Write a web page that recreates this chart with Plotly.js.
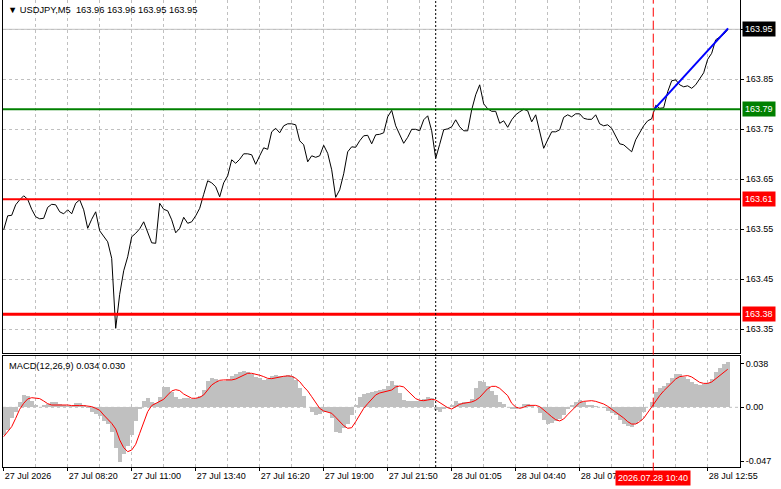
<!DOCTYPE html>
<html><head><meta charset="utf-8">
<script src="https://cdn.plot.ly/plotly-3.0.1.min.js"></script>
<style>html,body{margin:0;padding:0;background:#fff;}#chart{width:781px;height:489px;}</style>
</head><body><div id="chart"></div>
<script>
// USDJPY M5 close, one value per 2 bars
const price = [
163.549,163.577,163.578,163.599,163.609,163.617,163.610,163.590,163.575,163.571,
163.572,163.594,163.600,163.599,163.585,163.581,163.589,163.581,163.602,163.609,
163.589,163.552,163.570,163.585,163.547,163.537,163.525,163.492,163.352,163.420,
163.467,163.495,163.535,163.542,163.551,163.565,163.545,163.523,163.522,163.602,
163.590,163.587,163.569,163.543,163.552,163.574,163.562,163.565,163.577,163.592,
163.620,163.647,163.643,163.635,163.615,163.643,163.657,163.689,163.682,163.690,
163.701,163.701,163.699,163.680,163.697,163.713,163.710,163.745,163.752,163.743,
163.757,163.761,163.761,163.759,163.727,163.719,163.685,163.697,163.694,163.697,
163.718,163.702,163.669,163.614,163.629,163.661,163.705,163.715,163.714,163.727,
163.737,163.738,163.721,163.739,163.740,163.743,163.775,163.788,163.757,163.741,
163.722,163.734,163.750,163.750,163.747,163.769,163.777,163.747,163.692,163.720,
163.749,163.751,163.755,163.769,163.755,163.747,163.747,163.789,163.819,163.839,
163.801,163.791,163.786,163.786,163.762,163.767,163.754,163.769,163.779,163.785,
163.790,163.787,163.765,163.779,163.747,163.712,163.729,163.745,163.745,163.749,
163.774,163.779,163.775,163.781,163.781,163.772,163.770,163.770,163.779,163.761,
163.757,163.759,163.752,163.735,163.721,163.719,163.712,163.705,163.729,163.744,
163.757,163.767,163.771,163.798,163.792,163.793,163.825,163.847,163.849,163.839,
163.835,163.837,163.832,163.839,163.852,163.863,163.890,163.902,163.929,163.935,
163.940,163.949];

const macdHist = [
-0.0242,-0.0198,-0.0096,-0.0044,0.0049,0.0108,0.0099,0.0055,0.0020,0.0006,
0.0020,0.0029,0.0044,0.0044,0.0029,0.0020,0.0015,0.0015,0.0035,0.0041,
0.0020,-0.0003,-0.0038,-0.0055,-0.0073,-0.0116,-0.0148,-0.0212,-0.0358,-0.0480,
-0.0410,-0.0335,-0.0242,-0.0116,-0.0015,0.0055,0.0079,0.0049,0.0041,0.0093,
0.0178,0.0175,0.0137,0.0087,0.0076,0.0079,0.0079,0.0073,0.0079,0.0096,
0.0151,0.0230,0.0256,0.0247,0.0227,0.0230,0.0245,0.0277,0.0291,0.0306,
0.0317,0.0311,0.0294,0.0265,0.0255,0.0242,0.0247,0.0277,0.0285,0.0274,
0.0277,0.0279,0.0274,0.0239,0.0172,0.0102,0.0000,-0.0044,-0.0070,-0.0058,
-0.0038,-0.0044,-0.0096,-0.0212,-0.0224,-0.0183,-0.0148,-0.0067,0.0020,0.0090,
0.0114,0.0125,0.0134,0.0143,0.0151,0.0160,0.0189,0.0230,0.0195,0.0122,
0.0067,0.0055,0.0055,0.0055,0.0058,0.0073,0.0090,0.0079,-0.0023,-0.0038,
-0.0015,-0.0006,0.0020,0.0055,0.0041,0.0044,0.0049,0.0073,0.0166,0.0230,
0.0221,0.0189,0.0143,0.0108,0.0049,0.0026,0.0003,-0.0017,-0.0017,0.0000,
0.0026,0.0029,0.0015,0.0000,-0.0052,-0.0111,-0.0146,-0.0140,-0.0122,-0.0105,
-0.0067,-0.0015,0.0020,0.0049,0.0067,0.0049,0.0023,0.0020,0.0015,0.0003,
-0.0009,-0.0035,-0.0052,-0.0070,-0.0108,-0.0148,-0.0160,-0.0169,-0.0148,-0.0116,
-0.0044,0.0003,0.0049,0.0131,0.0169,0.0189,0.0215,0.0259,0.0291,0.0291,
0.0268,0.0245,0.0218,0.0201,0.0198,0.0201,0.0215,0.0247,0.0311,0.0346,
0.0376,0.0393];

const macdSignal = [
-0.0256,-0.0212,-0.0169,-0.0096,-0.0017,0.0035,0.0073,0.0084,0.0082,0.0076,
0.0055,0.0032,0.0020,0.0020,0.0023,0.0026,0.0020,0.0015,0.0012,0.0015,
0.0015,0.0012,0.0006,-0.0009,-0.0026,-0.0067,-0.0102,-0.0140,-0.0189,-0.0285,
-0.0352,-0.0387,-0.0373,-0.0323,-0.0227,-0.0125,-0.0038,0.0015,0.0035,0.0049,
0.0070,0.0108,0.0143,0.0154,0.0146,0.0116,0.0096,0.0079,0.0079,0.0087,
0.0108,0.0157,0.0195,0.0218,0.0236,0.0239,0.0239,0.0239,0.0247,0.0262,
0.0282,0.0297,0.0297,0.0290,0.0280,0.0268,0.0253,0.0250,0.0259,0.0265,
0.0271,0.0274,0.0271,0.0253,0.0224,0.0180,0.0143,0.0093,0.0041,-0.0009,
-0.0032,-0.0044,-0.0052,-0.0087,-0.0125,-0.0160,-0.0183,-0.0178,-0.0125,-0.0067,
-0.0009,0.0032,0.0073,0.0108,0.0125,0.0134,0.0140,0.0151,0.0178,0.0186,
0.0178,0.0143,0.0108,0.0076,0.0061,0.0058,0.0064,0.0070,0.0064,0.0041,
0.0015,-0.0003,-0.0015,0.0003,0.0026,0.0035,0.0041,0.0047,0.0061,0.0087,
0.0125,0.0163,0.0183,0.0183,0.0166,0.0137,0.0102,0.0035,0.0003,-0.0009,
0.0000,0.0017,0.0020,0.0017,0.0006,-0.0020,-0.0052,-0.0082,-0.0108,-0.0119,
-0.0102,-0.0064,-0.0026,0.0012,0.0041,0.0052,0.0058,0.0058,0.0052,0.0041,
0.0029,0.0009,-0.0015,-0.0038,-0.0064,-0.0093,-0.0125,-0.0146,-0.0146,-0.0125,
-0.0096,-0.0044,0.0000,0.0055,0.0102,0.0143,0.0180,0.0215,0.0247,0.0268,
0.0274,0.0277,0.0265,0.0239,0.0218,0.0209,0.0209,0.0221,0.0247,0.0277,
0.0306,0.0332];

const tickIndex = [0,16,32,48,64,80,96,112,128,144,176];
const tickLabels = ["27 Jul 2026","27 Jul 08:20","27 Jul 11:00","27 Jul 13:40","27 Jul 16:20",
  "27 Jul 19:00","27 Jul 21:50","28 Jul 01:05","28 Jul 04:40","28 Jul 07","28 Jul 12:55"];
const priceTicks = [163.35,163.45,163.55,163.65,163.75,163.85,163.95];
const macdTicks = [-0.047,0,0.038];
const macdTickText = ["-0.047","0.00","0.038"];
const levelValues = [163.79,163.61,163.38];
const levelLabels = ["163.79","163.61","163.38"];
const lastPrice = 163.95;
const trendIndex = [162.6,181.1];
const trendPrice = [163.790,163.952];
const markerBlackIndex = 108;
const markerRedIndex = 162.4;
const markerRedLabel = "2026.07.28 10:40";
const headerText = "\u25BC USDJPY,M5\u00a0\u00a0163.96 163.96 163.95 163.95";
const macdText = "MACD(12,26,9) 0.034 0.030";

const barIndex = price.map((_, i) => i);
const FONT = "Liberation Sans, DejaVu Sans, Arial, sans-serif";
const FS = 9;
const GRID = "#c0c0c0";
const DASH = "3px,3px";
const gridIdx = [];
for (let i = 0; i <= 184; i += 8) gridIdx.push(i);

const traces = [
  {type:'scatter', mode:'lines', x:barIndex, y:price, xaxis:'x', yaxis:'y',
   line:{color:'#000', width:1}, hoverinfo:'skip'},
  {type:'scatter', mode:'lines', x:trendIndex, y:trendPrice, xaxis:'x', yaxis:'y',
   line:{color:'#0000ff', width:2}, hoverinfo:'skip'},
  {type:'bar', x:barIndex, y:macdHist, xaxis:'x2', yaxis:'y2', width:1,
   marker:{color:'#c0c0c0', line:{width:0}}, hoverinfo:'skip'},
  {type:'scatter', mode:'lines', x:barIndex, y:macdSignal, xaxis:'x2', yaxis:'y2',
   line:{color:'#ff0000', width:1}, hoverinfo:'skip'}
];

const levelColors = ['#008000','#ff0000','#ff0000'];
const levelWidths = [2,2,3];

const shapes = [
  {type:'line', xref:'paper', x0:0, x1:1, yref:'y', y0:lastPrice, y1:lastPrice,
   line:{color:'#c0c0c0', width:1}, layer:'below'},
  {type:'line', xref:'paper', x0:0, x1:1, yref:'y2', y0:0, y1:0,
   line:{color:GRID, width:1, dash:DASH}, layer:'below'}
];
levelValues.forEach((v, i) => shapes.push({type:'line', xref:'paper', x0:0, x1:1, yref:'y', y0:v, y1:v,
  line:{color:levelColors[i], width:levelWidths[i]}}));
shapes.push({type:'line', xref:'x', x0:markerBlackIndex, x1:markerBlackIndex, yref:'paper', y0:0, y1:1,
  line:{color:'#000', width:1, dash:'2px,2px'}});
shapes.push({type:'line', xref:'x', x0:markerRedIndex, x1:markerRedIndex, yref:'paper', y0:-0.01, y1:1,
  line:{color:'#ff0000', width:1, dash:'9px,4px'}});

const annotations = [
  {xref:'paper', yref:'paper', x:0, y:1, xanchor:'left', yanchor:'top', xshift:3, yshift:-3,
   text:headerText, showarrow:false, font:{family:FONT, size:9.3, color:'#000'}},
  {xref:'paper', yref:'paper', x:0, y:0.2377, xanchor:'left', yanchor:'top', xshift:4, yshift:-3,
   text:macdText, showarrow:false, font:{family:FONT, size:9.3, color:'#000'}},
  {xref:'paper', yref:'y', x:1, y:lastPrice, xanchor:'left', yanchor:'middle', xshift:2,
   text:"163.95", showarrow:false, bgcolor:'#000', borderpad:2, font:{family:FONT, size:FS, color:'#fff'}},
  {xref:'x2', yref:'paper', x:markerRedIndex, y:0, xanchor:'center', yanchor:'top', yshift:-3,
   text:markerRedLabel, showarrow:false, bgcolor:'#ff0000', borderpad:2, font:{family:FONT, size:FS, color:'#fff'}}
];
levelValues.forEach((v, i) => annotations.push({xref:'paper', yref:'y', x:1, y:v, xanchor:'left', yanchor:'middle', xshift:2,
  text:levelLabels[i], showarrow:false, bgcolor:levelColors[i], borderpad:2, font:{family:FONT, size:FS, color:'#fff'}}));

const xcommon = {range:[-0.175,184.08], zeroline:false, showgrid:true, gridcolor:GRID, griddash:DASH, gridwidth:1,
  tickmode:'array', tickvals:tickIndex, showline:true, linecolor:'#000', linewidth:1,
  minor:{tickmode:'array', tickvals:gridIdx, showgrid:true, gridcolor:GRID, griddash:DASH, gridwidth:1, ticks:''}};

const layout = {
  width:781, height:489,
  margin:{l:3, r:41, t:0, b:22, pad:0},
  paper_bgcolor:'#fff', plot_bgcolor:'#fff',
  showlegend:false, bargap:0,
  font:{family:FONT, size:FS, color:'#000'},
  xaxis:Object.assign({}, xcommon, {domain:[0,1], anchor:'y', showticklabels:false, ticks:''}),
  xaxis2:Object.assign({}, xcommon, {domain:[0,1], anchor:'y2', matches:'x', mirror:true,
    ticktext:tickLabels, showticklabels:true, ticks:'outside', ticklen:3, tickcolor:'#000',
    ticklabelposition:'outside right', tickfont:{family:FONT, size:FS, color:'#000'}}),
  yaxis:{domain:[0.2441,1], anchor:'x', range:[163.3026,164.0086], side:'right',
    tickmode:'array', tickvals:priceTicks, ticktext:priceTicks.map(v => v.toFixed(2)),
    ticks:'outside', ticklen:3, tickcolor:'#000', showline:true, mirror:true, linecolor:'#000', linewidth:1,
    showgrid:true, gridcolor:GRID, griddash:DASH, zeroline:false, tickfont:{family:FONT, size:FS, color:'#000'}},
  yaxis2:{domain:[0,0.2377], anchor:'x2', range:[-0.0521,0.0448], side:'right',
    tickmode:'array', tickvals:macdTicks, ticktext:macdTickText,
    ticks:'outside', ticklen:3, tickcolor:'#000', showline:true, mirror:true, linecolor:'#000', linewidth:1,
    showgrid:false, zeroline:false, tickfont:{family:FONT, size:FS, color:'#000'}},
  shapes:shapes, annotations:annotations
};

Plotly.newPlot('chart', traces, layout, {staticPlot:true, displayModeBar:false});
</script></body></html>
